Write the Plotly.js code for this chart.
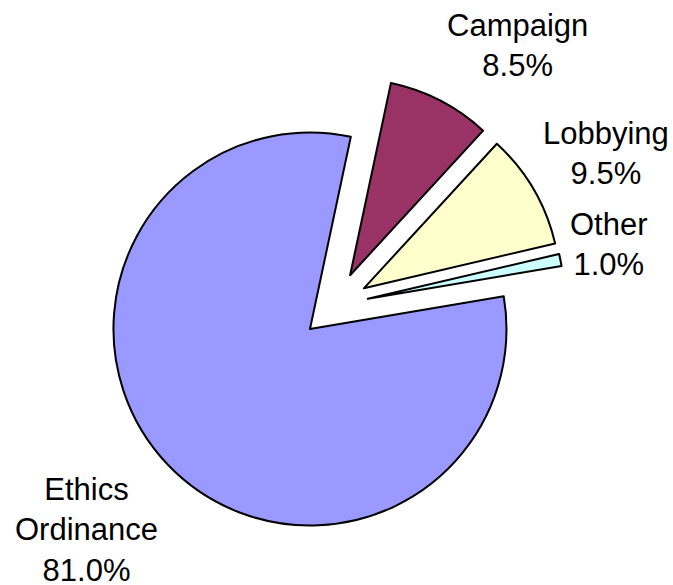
<!DOCTYPE html>
<html>
<head>
<meta charset="utf-8">
<script src="https://cdn.plot.ly/plotly-3.0.1.min.js"></script>
<style>html,body{margin:0;padding:0;background:#fff;}#chart{width:673px;height:585px;}</style>
</head>
<body>
<div id="chart"></div>
<script>
const categories = ["Campaign", "Lobbying", "Other", "Ethics<br>Ordinance"];
const shares = [8.5, 9.5, 1.0, 81.0];
const sliceColors = ["#993366", "#FFFFCC", "#CCFFFF", "#9999FF"];
const pulls = [0.173, 0.173, 0.173, 0.173];
// label anchor positions (paper units), layout only
const labelX = [0.897, 1.088, 1.096, -0.039];
const labelY = [1.064, 0.830, 0.633, 0.014];

const FONT = "Liberation Sans, Arial, Helvetica, sans-serif";

const trace = {
  type: "pie",
  labels: categories,
  values: shares,
  sort: false,
  direction: "clockwise",
  rotation: 12,
  pull: pulls,
  marker: { colors: sliceColors, line: { color: "#000000", width: 2 } },
  textinfo: "none",
  automargin: false,
  hoverinfo: "none"
};

const annotations = categories.map((c, i) => ({
  xref: "paper", yref: "paper",
  x: labelX[i], y: labelY[i],
  xanchor: "center", yanchor: "middle",
  text: c + "<br>" + shares[i].toFixed(1) + "%",
  showarrow: false,
  align: "center",
  font: { family: FONT, size: 31, color: "#000000" }
}));

const layout = {
  width: 673,
  height: 585,
  margin: { l: 103.5, r: 107.5, t: 74.5, b: 48.5 },
  showlegend: false,
  paper_bgcolor: "#ffffff",
  plot_bgcolor: "#ffffff",
  font: { family: FONT, size: 31, color: "#000000" },
  annotations: annotations
};

Plotly.newPlot("chart", [trace], layout, { displayModeBar: false, staticPlot: true });
</script>
</body>
</html>
